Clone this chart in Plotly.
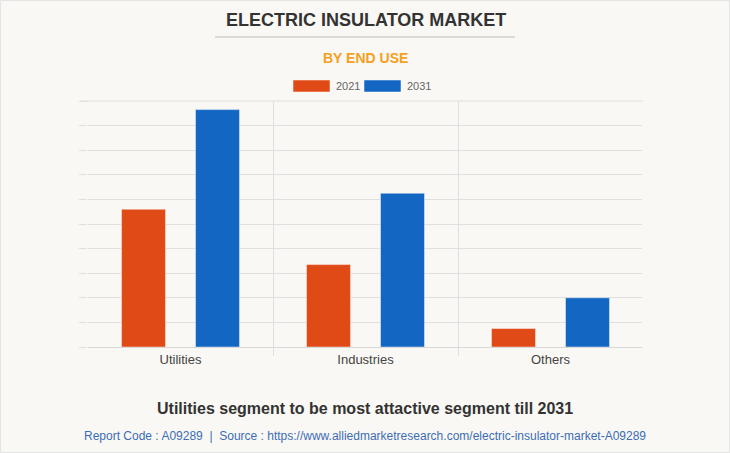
import plotly.graph_objects as go

categories = ["Utilities", "Industries", "Others"]
series_names = ["2021", "2031"]
values_2021 = [5.6, 3.35, 0.75]
values_2031 = [9.65, 6.25, 2.0]
colors = ["#E04A16", "#1366C2"]

W, H = 730, 453
L, R, T, B = 88, 87, 101, 106
PW, PH = W - L - R, H - T - B


def px(x):
    return (x - L) / PW


def py(y):
    return (H - B - y) / PH


fig = go.Figure()
for name, vals, col in zip(series_names, [values_2021, values_2031], colors):
    fig.add_trace(go.Bar(
        x=categories, y=vals, name=name,
        marker=dict(color=col, line=dict(color="rgba(255,255,255,0.45)", width=1)),
    ))

bg = "#F9F8F4"
grid = "#E0E0E0"
shapes = [
    dict(type="line", xref="paper", yref="paper",
         x0=px(215), x1=px(515), y0=py(37), y1=py(37),
         line=dict(color="#BBBBBB", width=1)),
    dict(type="rect", xref="paper", yref="paper",
         x0=px(0.5), x1=px(729.5), y0=py(452.5), y1=py(0.5),
         line=dict(color="#E4E4E4", width=1), fillcolor="rgba(0,0,0,0)"),
    # hide right boundary gridline and outer boundary ticks
    dict(type="line", xref="paper", yref="paper", x0=1, x1=1, y0=py(357), y1=py(102),
         line=dict(color=bg, width=2), layer="above"),
    dict(type="line", xref="paper", yref="paper", x0=0, x1=0, y0=py(357), y1=py(348),
         line=dict(color=bg, width=2), layer="above"),
    # top frame gridline
    dict(type="line", xref="paper", yref="paper", x0=px(80), x1=1, y0=1, y1=1,
         line=dict(color=grid, width=1), layer="below"),
]
annotations = [
    dict(text="<b>ELECTRIC INSULATOR MARKET</b>", xref="paper", yref="paper",
         x=0.5, y=py(20), xanchor="center", yanchor="middle", showarrow=False,
         font=dict(size=18, color="#333333")),
    dict(text="<b>BY END USE</b>", xref="paper", yref="paper",
         x=0.5, y=py(58), xanchor="center", yanchor="middle", showarrow=False,
         font=dict(size=14, color="#F5A11C")),
    dict(text="<b>Utilities segment to be most attactive segment till 2031</b>", xref="paper", yref="paper",
         x=px(365), y=py(408), xanchor="center", yanchor="middle", showarrow=False,
         font=dict(size=16, color="#333333")),
    dict(text="Report Code : A09289  |  Source : https://www.alliedmarketresearch.com/electric-insulator-market-A09289",
         xref="paper", yref="paper",
         x=px(365), y=py(436), xanchor="center", yanchor="middle", showarrow=False,
         font=dict(size=12, color="#3C6DB4")),
]

# custom legend (wide swatches)
legend_x = [293, 364]
for name, col, lx in zip(series_names, colors, legend_x):
    shapes.append(dict(type="rect", xref="paper", yref="paper",
                       x0=px(lx), x1=px(lx + 37), y0=py(92), y1=py(80),
                       fillcolor=col, line=dict(color="rgba(255,255,255,0.5)", width=1)))
    annotations.append(dict(text=name, xref="paper", yref="paper",
                            x=px(lx + 41), y=py(86), xanchor="left", yanchor="middle",
                            showarrow=False, font=dict(size=11, color="#666666")))

fig.update_layout(
    width=W, height=H,
    paper_bgcolor=bg, plot_bgcolor=bg,
    margin=dict(l=L, r=R, t=T, b=B),
    barmode="group", bargap=0.2, bargroupgap=0.405,
    font=dict(family="Liberation Sans, Arial, sans-serif", color="#444"),
    showlegend=False,
    xaxis=dict(tickson="boundaries", showgrid=True, gridcolor=grid, gridwidth=1,
               ticks="outside", ticklen=8, tickcolor=grid,
               showline=True, linecolor="#D8D8D8", linewidth=1,
               tickfont=dict(size=13, color="#444"), fixedrange=True),
    yaxis=dict(range=[0, 10], dtick=1, showticklabels=False, showgrid=True,
               gridcolor=grid, gridwidth=1, ticks="outside", ticklen=8,
               tickcolor=grid, zeroline=False, showline=False, fixedrange=True),
    shapes=shapes,
    annotations=annotations,
)

fig.write_html("out.html", config={"displayModeBar": False},
               post_script="document.body.style.margin='0';")
